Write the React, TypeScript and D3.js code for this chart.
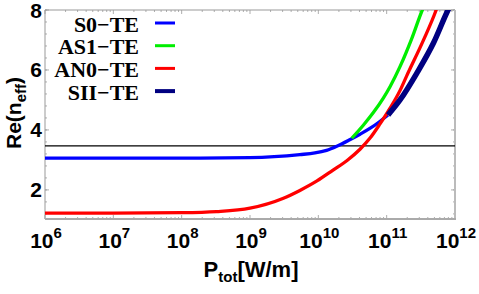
import React from 'react';
import * as d3 from 'd3';

// series: log10(P_tot) and Re(n_eff)
const s0LogP = [6, 8.27, 9.0, 9.73, 9.95, 10.12, 10.27, 10.46, 10.61, 10.76, 10.9, 11.02];
const s0N = [3.057, 3.063, 3.077, 3.177, 3.232, 3.32, 3.457, 3.673, 3.857, 4.057, 4.283, 4.5];

const as1LogP = [10.489, 10.658, 10.805, 10.951, 11.049, 11.195, 11.367, 11.522, 11.545];
const as1N = [3.723, 4.157, 4.58, 5.063, 5.443, 6.11, 7.047, 8.0, 8.12];

const an0LogP = [6, 7, 8.0, 8.51, 9.0, 9.48, 9.73, 9.98, 10.21, 10.43, 10.61, 10.76, 10.9, 11.05, 11.2, 11.29, 11.54, 11.72, 11.74];
const an0N = [1.223, 1.223, 1.24, 1.277, 1.39, 1.713, 1.983, 2.3, 2.653, 3.0, 3.357, 3.737, 4.193, 4.727, 5.337, 5.787, 7.003, 7.973, 8.1];

const siiLogP = [11.02, 11.195, 11.44, 11.683, 11.898, 11.92];
const siiN = [4.5, 5.0, 5.89, 6.89, 8.0, 8.1];

const siliconIndex = 3.47;

const legendLabels = ['S0\u2212TE', 'AS1\u2212TE', 'AN0\u2212TE', 'SII\u2212TE'];
const seriesColors = ['#0000ff', '#00ee00', '#ff0000', '#000080'];
const seriesWidths = [3.3, 3.3, 3.3, 5.5];

const xExps = [6, 7, 8, 9, 10, 11, 12];
const yTicks = [2, 4, 6, 8];

const App = () => {
    const left = 45, right = 455, top = 10, bottom = 219;

    const xScale = d3.scaleLog().domain([1e6, 1e12]).range([left, right]);
    const yScale = d3.scaleLinear().domain([1.03, 8]).range([bottom, top]);

    const line = d3.line<[number, number]>()
        .x(d => xScale(Math.pow(10, d[0])))
        .y(d => yScale(d[1]))
        .curve(d3.curveMonotoneX);

    const series = [
        d3.zip(s0LogP, s0N),
        d3.zip(as1LogP, as1N),
        d3.zip(an0LogP, an0N),
        d3.zip(siiLogP, siiN),
    ] as [number, number][][];

    // minor ticks on x: 2..9 of each decade
    const xMinor: number[] = [];
    xExps.slice(0, -1).forEach(e => {
        for (let k = 2; k < 10; k++) xMinor.push(k * Math.pow(10, e));
    });
    const yMinor = d3.range(1.2, 8.01, 0.4);

    const font = "'Liberation Sans', Arial, sans-serif";
    const serif = "'Liberation Serif', 'Times New Roman', serif";

    return (
        <svg width={479} height={294} style={{ position: 'absolute', left: 0, top: 0, background: '#fff' }}>
            <defs>
                <clipPath id="plotclip">
                    <rect x={left} y={top} width={right - left} height={bottom - top} />
                </clipPath>
            </defs>

            {/* ticks */}
            <g stroke="#999" strokeWidth={0.8}>
                {xMinor.map((v, i) => (
                    <g key={'xm' + i}>
                        <line x1={xScale(v)} x2={xScale(v)} y1={bottom} y2={bottom - 2} />
                        <line x1={xScale(v)} x2={xScale(v)} y1={top} y2={top + 2} />
                    </g>
                ))}
                {xExps.map(e => (
                    <g key={'xM' + e}>
                        <line x1={xScale(Math.pow(10, e))} x2={xScale(Math.pow(10, e))} y1={bottom} y2={bottom - 4} />
                        <line x1={xScale(Math.pow(10, e))} x2={xScale(Math.pow(10, e))} y1={top} y2={top + 4} />
                    </g>
                ))}
                {yMinor.map((v, i) => (
                    <g key={'ym' + i}>
                        <line x1={left} x2={left + 2} y1={yScale(v)} y2={yScale(v)} />
                        <line x1={right} x2={right - 2} y1={yScale(v)} y2={yScale(v)} />
                    </g>
                ))}
                {yTicks.map(v => (
                    <g key={'yM' + v}>
                        <line x1={left} x2={left + 4} y1={yScale(v)} y2={yScale(v)} />
                        <line x1={right} x2={right - 4} y1={yScale(v)} y2={yScale(v)} />
                    </g>
                ))}
            </g>

            {/* frame */}
            <line x1={left} x2={right} y1={top} y2={top} stroke="#999" strokeWidth={1} />
            <line x1={left} x2={left} y1={top} y2={bottom} stroke="#999" strokeWidth={1} />
            <line x1={right} x2={right} y1={top} y2={bottom + 1} stroke="#bbb" strokeWidth={2} />
            <line x1={left} x2={right + 1} y1={bottom} y2={bottom} stroke="#aaa" strokeWidth={2} />

            {/* silicon reference line */}
            <line x1={left} x2={right} y1={yScale(siliconIndex)} y2={yScale(siliconIndex)} stroke="#000" strokeWidth={1.3} />

            <g clipPath="url(#plotclip)" fill="none" strokeLinecap="butt">
                {series.map((s, i) => (
                    <path key={i} d={line(s) || ''} stroke={seriesColors[i]} strokeWidth={seriesWidths[i]} />
                ))}
            </g>

            {/* legend */}
            {legendLabels.map((lab, i) => {
                const cy = 23 + i * 22.7;
                return (
                    <g key={lab}>
                        <text x={139} y={cy + 8.5} textAnchor="end" fontFamily={serif} fontWeight="bold" fontSize={22}>{lab}</text>
                        <line x1={155} x2={175} y1={cy} y2={cy} stroke={seriesColors[i]} strokeWidth={i === 3 ? 4 : 3} />
                    </g>
                );
            })}

            {/* y tick labels */}
            {yTicks.map(v => (
                <text key={'yl' + v} x={42} y={yScale(v) + 7.5} textAnchor="end" fontFamily={font} fontWeight="bold" fontSize={21}>{v}</text>
            ))}

            {/* x tick labels */}
            {xExps.map(e => (
                <text key={'xl' + e} x={xScale(Math.pow(10, e)) + 1} y={248} textAnchor="middle" fontFamily={font} fontWeight="bold" fontSize={21}>
                    10<tspan dy={-10} fontSize={15}>{e}</tspan>
                </text>
            ))}

            {/* axis labels */}
            <text x={251} y={277} textAnchor="middle" fontFamily={font} fontWeight="bold" fontSize={22}>
                P<tspan dy={5} fontSize={15}>tot</tspan><tspan dy={-5}>[W/m]</tspan>
            </text>
            <text transform="translate(21,113) rotate(-90)" textAnchor="middle" fontFamily={font} fontWeight="bold" fontSize={21}>
                Re(n<tspan dy={5} fontSize={15}>eff</tspan><tspan dy={-5}>)</tspan>
            </text>
        </svg>
    );
};

export default App;
